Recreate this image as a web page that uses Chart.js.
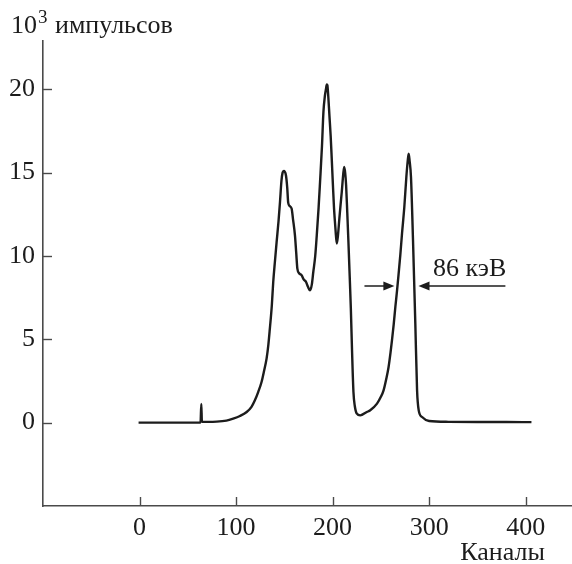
<!DOCTYPE html>
<html>
<head>
<meta charset="utf-8">
<script src="https://cdn.jsdelivr.net/npm/chart.js@4.4.1/dist/chart.umd.min.js"></script>
<style>
  html, body { margin: 0; padding: 0; background: #fff; }
  #wrap { width: 572px; height: 564px; }
</style>
</head>
<body>
<div id="wrap"><canvas id="c" width="572" height="564"></canvas></div>
<script>
// ---- data (channel, 10^3 counts) ----
const channels = [
  -1, 20, 40, 63.2, 64, 64.6, 70, 80, 90, 97, 104, 111, 116, 119.5, 123, 126.4, 129, 131.6, 133.5, 135,
  137, 138.5, 140.3, 142, 144, 145.5, 147, 148.2, 149.5, 151.7, 153, 154, 155.5, 157.6, 159, 161,
  162.3, 163.5, 165.5, 168, 170, 172.5, 174.5, 176.6, 178.5, 180, 182, 183.6, 185.5, 187, 189, 190.5,
  192, 193.2, 194, 194.6, 195.5, 196.7, 198, 199.1, 200.3, 201.5, 203, 204.3, 205.5, 207, 208.3, 209.5,
  211, 212, 213, 214, 215.2, 216.4, 217.7, 218.9, 220.2, 221.6, 223, 225.1, 228.6, 235.5, 239, 246,
  250, 252.8, 255.5, 258, 260, 261.5, 263.3, 265, 266.8, 268.4, 270.2, 271.9, 274.3, 276.4, 277.8,
  278.8, 279.8, 281.2, 283.3, 285.7, 287.5, 289.2, 292.7, 300, 320, 350, 380, 406
];
const counts = [
  0, 0, 0, 0, 1.12, 0.05, 0.05, 0.06, 0.12, 0.24, 0.4, 0.64, 0.95, 1.34, 1.85, 2.44, 3.1, 3.84, 4.7, 5.64,
  7.0, 8.44, 9.7, 10.83, 12.1, 13.23, 14.5, 15.0, 15.1, 14.83, 14.1, 13.2, 13.0, 12.83, 12.2, 11.24,
  10.2, 9.24, 8.95, 8.84, 8.6, 8.44, 8.15, 7.94, 8.3, 9.04, 10.0, 11.24, 12.9, 14.44, 16.6, 18.64,
  19.6, 20.04, 20.3, 20.24, 19.6, 18.44, 17.2, 15.84, 14.3, 12.84, 11.6, 10.74, 11.2, 12.24, 13.1, 13.84,
  14.9, 15.34, 15.0, 14.24, 12.6, 10.84, 8.8, 6.84, 4.2, 1.84, 1.0, 0.54, 0.44, 0.64, 0.74, 1.14,
  1.55, 1.94, 2.6, 3.34, 4.2, 4.94, 5.9, 6.94, 7.95, 8.94, 10.1, 11.34, 12.94, 14.74, 15.7,
  16.14, 15.7, 14.74, 10.94, 5.94, 1.94, 0.74, 0.34, 0.1, 0.05, 0.04, 0.04, 0.03
];
const xTicks = [0, 100, 200, 300, 400];
const yTicks = [0, 5, 10, 15, 20];
const yTitle = ["10", "3", " импульсов"];
const xTitle = "Каналы";
const fwhmLabel = "86 кэВ";
// annotation (data coordinates): left arrow, right arrow, label
const fwhmY = 8.2;
const leftArrow = [233, 264];
const rightArrow = [379, 289];
const labelPos = [304, 8.8];

const FONT = '"Liberation Serif", "Times New Roman", serif';
const INK = '#1c1c1c';
const AXIS = '#4a4a4a';

const points = channels.map((c, i) => ({ x: c, y: counts[i] }));

const decor = {
  id: 'decor',
  afterDraw(chart) {
    const ctx = chart.ctx;
    const xs = chart.scales.x, ys = chart.scales.y;
    const a = chart.chartArea;
    ctx.save();
    // inward tick marks
    ctx.strokeStyle = AXIS;
    ctx.lineWidth = 1.4;
    xTicks.forEach(v => {
      const px = Math.round(xs.getPixelForValue(v)) + 0.5;
      ctx.beginPath(); ctx.moveTo(px, a.bottom); ctx.lineTo(px, a.bottom - 9); ctx.stroke();
    });
    yTicks.forEach(v => {
      const py = Math.round(ys.getPixelForValue(v)) + 0.5;
      ctx.beginPath(); ctx.moveTo(a.left, py); ctx.lineTo(a.left + 9, py); ctx.stroke();
    });
    // y title with superscript
    ctx.fillStyle = INK;
    ctx.textBaseline = 'alphabetic';
    ctx.textAlign = 'left';
    let x = 11, base = 33;
    ctx.font = '26px ' + FONT;
    ctx.fillText(yTitle[0], x, base);
    x += ctx.measureText(yTitle[0]).width;
    ctx.font = '19px ' + FONT;
    ctx.fillText(yTitle[1], x + 1, base - 10);
    x += ctx.measureText(yTitle[1]).width + 1;
    ctx.font = '26px ' + FONT;
    ctx.fillText(yTitle[2], x + 1, base);
    // x title
    ctx.textAlign = 'right';
    ctx.fillText(xTitle, 545, 560);
    // annotation
    const ay = ys.getPixelForValue(fwhmY);
    const arrow = (x0, x1) => {
      const p0 = xs.getPixelForValue(x0), p1 = xs.getPixelForValue(x1);
      const dir = Math.sign(p1 - p0);
      ctx.strokeStyle = INK; ctx.lineWidth = 1.5;
      ctx.beginPath(); ctx.moveTo(p0, ay); ctx.lineTo(p1 - dir * 6, ay); ctx.stroke();
      ctx.fillStyle = INK;
      ctx.beginPath();
      ctx.moveTo(p1, ay);
      ctx.lineTo(p1 - dir * 11, ay - 4.5);
      ctx.lineTo(p1 - dir * 11, ay + 4.5);
      ctx.closePath(); ctx.fill();
    };
    arrow(leftArrow[0], leftArrow[1]);
    arrow(rightArrow[0], rightArrow[1]);
    ctx.textAlign = 'left';
    ctx.font = '26px ' + FONT;
    ctx.fillText(fwhmLabel, xs.getPixelForValue(labelPos[0]), ys.getPixelForValue(labelPos[1]));
    ctx.restore();
  }
};

new Chart(document.getElementById('c'), {
  type: 'scatter',
  data: {
    datasets: [{
      data: points,
      showLine: true,
      borderColor: INK,
      borderWidth: 2.4,
      pointRadius: 0,
      cubicInterpolationMode: 'monotone',
      fill: false
    }]
  },
  options: {
    responsive: false,
    animation: false,
    events: [],
    layout: { padding: { top: 41, right: 0, left: 0, bottom: 0 } },
    plugins: { legend: { display: false }, tooltip: { enabled: false }, title: { display: false } },
    scales: {
      x: {
        type: 'linear', min: -100, max: 448,
        afterBuildTicks: s => { s.ticks = xTicks.map(v => ({ value: v })); },
        afterFit: s => { s.height = 58; },
        grid: { display: false, drawTicks: false },
        border: { display: true, color: AXIS, width: 1.6 },
        ticks: { color: INK, font: { family: FONT, size: 26 }, padding: 7, maxRotation: 0, autoSkip: false }
      },
      y: {
        type: 'linear', min: -5, max: 22.9,
        afterBuildTicks: s => { s.ticks = yTicks.map(v => ({ value: v })); },
        afterFit: s => { s.width = 43; },
        grid: { display: false, drawTicks: false },
        border: { display: true, color: AXIS, width: 1.6 },
        ticks: { color: INK, font: { family: FONT, size: 26 }, padding: 8 }
      }
    }
  },
  plugins: [decor]
});
</script>
</body>
</html>
